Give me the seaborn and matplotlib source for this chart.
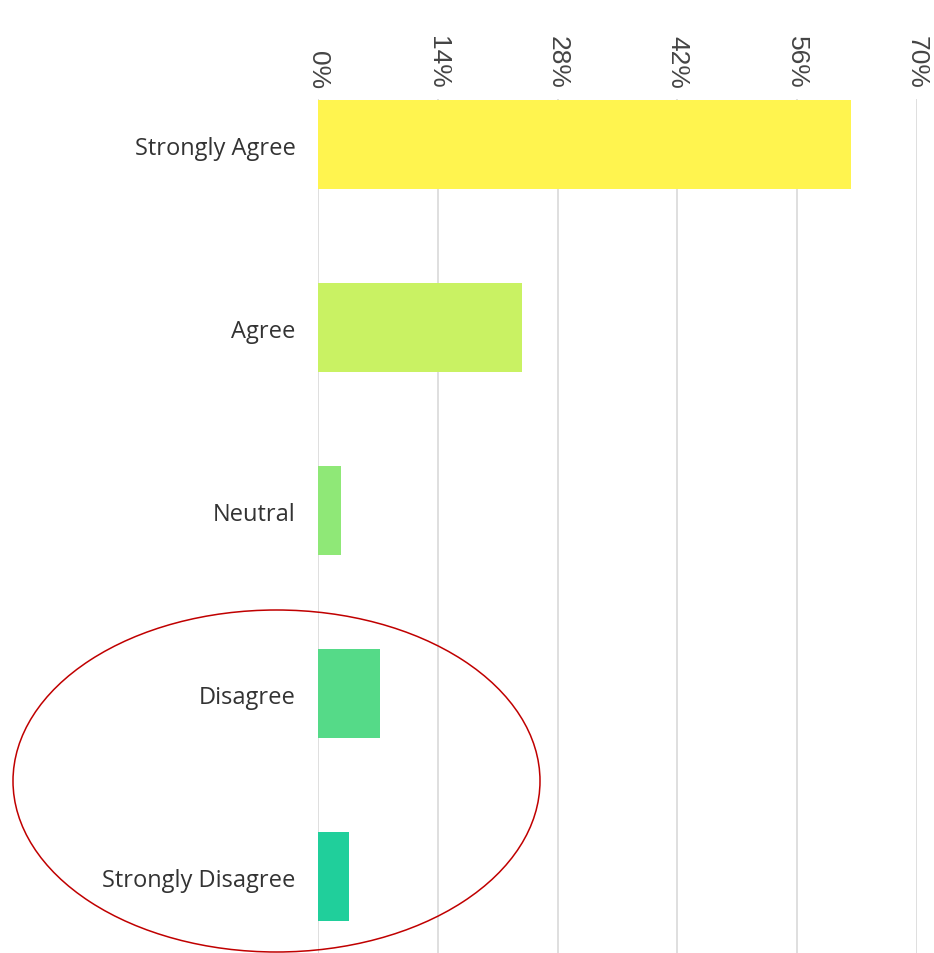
import matplotlib
matplotlib.use("Agg")
import matplotlib.pyplot as plt
from matplotlib.patches import Ellipse
import seaborn as sns
import pandas as pd

categories = ["Strongly Agree", "Agree", "Neutral", "Disagree", "Strongly Disagree"]
percentages = [62.3, 23.8, 2.7, 7.2, 3.6]
colors = ["#FFF44F", "#C9F263", "#8FE877", "#55DA88", "#20CF9B"]
tick_values = [0, 14, 28, 42, 56, 70]
tick_labels = ["0%", "14%", "28%", "42%", "56%", "70%"]

df = pd.DataFrame({"category": categories, "pct": percentages})

sns.set_theme(style="white")
fig = plt.figure(figsize=(9.34, 9.54), dpi=100)
W, H = 934, 954
ax = fig.add_axes([318 / W, 0, (917 - 318) / W, 1 - 100 / H])

sns.barplot(data=df, x="pct", y="category", hue="category", palette=colors,
            order=categories, hue_order=categories, orient="h", saturation=1,
            width=0.49, legend=False, ax=ax, zorder=3, linewidth=0)

ax.set_xlim(0, 70)
ax.set_ylim((954 - 145.5) / 183, -0.249)
ax.set_xticks(tick_values)
ax.set_xticklabels(tick_labels, rotation=-90, fontsize=19, color="#444444",
                   family=["Liberation Sans", "DejaVu Sans"])
ax.xaxis.tick_top()
ax.tick_params(axis="x", length=0, pad=8)
ax.tick_params(axis="y", length=0, pad=16)
for lbl in ax.get_yticklabels():
    lbl.set_fontsize(17)
    lbl.set_color("#333333")
    lbl.set_family(["Open Sans", "DejaVu Sans"])
ax.set_xlabel("")
ax.set_ylabel("")
ax.grid(axis="x", color="#d6d6d6", linewidth=1.1, zorder=0)
ax.set_axisbelow(True)
for s in ax.spines.values():
    s.set_visible(False)

ell = Ellipse(((13 + 540) / 2 / W, 1 - 782 / H), 527 / W, 342 / H,
              transform=fig.transFigure, fill=False, edgecolor="#C00000",
              linewidth=1.1, zorder=10)
fig.patches.append(ell)

fig.savefig("out.png", dpi=100)
